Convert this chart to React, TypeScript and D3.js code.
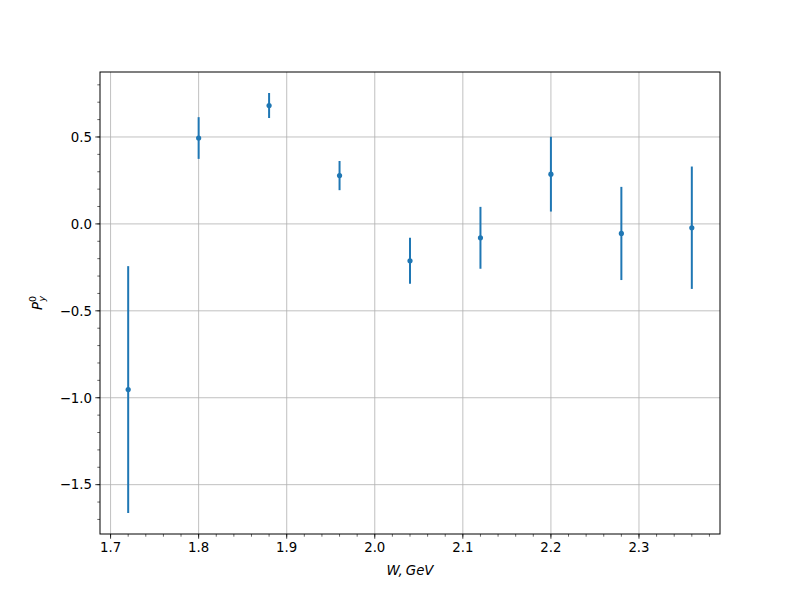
import React from "react";
import * as d3 from "d3";

const wValues = [1.72, 1.8, 1.88, 1.96, 2.04, 2.12, 2.2, 2.28, 2.36];
const pValues = [-0.953, 0.494, 0.681, 0.278, -0.212, -0.08, 0.286, -0.055, -0.022];
const pErrors = [0.71, 0.12, 0.072, 0.084, 0.132, 0.178, 0.215, 0.268, 0.352];
const xTicks = [1.7, 1.8, 1.9, 2.0, 2.1, 2.2, 2.3];
const yTicks = [-1.5, -1.0, -0.5, 0.0, 0.5];

const W = 800, H = 600;
const L = 100, R = 720, T = 72, B = 534;
const color = "#1f77b4";
const font = "DejaVu Sans, sans-serif";

export default function App() {
  const x = d3.scaleLinear().domain([1.688, 2.392]).range([L, R]);
  const lo = d3.min(pValues.map((v, i) => v - pErrors[i]))!;
  const hi = d3.max(pValues.map((v, i) => v + pErrors[i]))!;
  const m = (hi - lo) * 0.05;
  const y = d3.scaleLinear().domain([lo - m, hi + m]).range([B, T]);

  const xMinor = d3.range(170, 240, 2).map((v) => v / 100).filter((v) => x(v) >= L && x(v) <= R);
  const yMinor = d3.range(-17, 9, 1).map((v) => v / 10).filter((v) => y(v) >= T && y(v) <= B);
  const fmt = (v: number) => v.toFixed(1).replace("-", "\u2212");

  return (
    <svg width={W} height={H} style={{ position: "absolute", left: 0, top: 0 }}>
      <rect width={W} height={H} fill="white" />
      {xTicks.map((t) => (
        <line key={"gx" + t} x1={x(t)} x2={x(t)} y1={T} y2={B} stroke="#b0b0b0" strokeWidth={0.8} />
      ))}
      {yTicks.map((t) => (
        <line key={"gy" + t} x1={L} x2={R} y1={y(t)} y2={y(t)} stroke="#b0b0b0" strokeWidth={0.8} />
      ))}
      {wValues.map((w, i) => (
        <g key={"p" + i}>
          <line x1={x(w)} x2={x(w)} y1={y(pValues[i] - pErrors[i])} y2={y(pValues[i] + pErrors[i])} stroke={color} strokeWidth={2} />
          <circle cx={x(w)} cy={y(pValues[i])} r={2.6} fill={color} />
        </g>
      ))}
      <rect x={L} y={T} width={R - L} height={B - T} fill="none" stroke="black" strokeWidth={1} />
      {xTicks.map((t) => (
        <g key={"xt" + t}>
          <line x1={x(t)} x2={x(t)} y1={B} y2={B + 4.7} stroke="black" strokeWidth={0.8} />
          <text x={x(t)} y={B + 18} textAnchor="middle" fontFamily={font} fontSize={13.33}>{fmt(t)}</text>
        </g>
      ))}
      {xMinor.map((t) => (
        <line key={"xm" + t} x1={x(t)} x2={x(t)} y1={B} y2={B + 2.7} stroke="black" strokeWidth={0.6} />
      ))}
      {yTicks.map((t) => (
        <g key={"yt" + t}>
          <line x1={L - 4.7} x2={L} y1={y(t)} y2={y(t)} stroke="black" strokeWidth={0.8} />
          <text x={L - 8} y={y(t) + 4.8} textAnchor="end" fontFamily={font} fontSize={13.33}>{fmt(t)}</text>
        </g>
      ))}
      {yMinor.map((t) => (
        <line key={"ym" + t} x1={L - 2.7} x2={L} y1={y(t)} y2={y(t)} stroke="black" strokeWidth={0.6} />
      ))}
      <text x={(L + R) / 2} y={575} textAnchor="middle" fontFamily={font} fontSize={13.33} fontStyle="italic">
        <tspan>W,</tspan>
        <tspan dx={3}>GeV</tspan>
      </text>
      <g transform={`translate(42, ${(T + B) / 2}) rotate(-90)`}>
        <text x={0} y={0} textAnchor="middle" fontFamily={font} fontSize={13.33}>
          <tspan fontStyle="italic">P</tspan>
          <tspan fontSize={9.5} dy={-6}>0</tspan>
          <tspan fontSize={9.5} fontStyle="italic" dx={-5.5} dy={9}>y</tspan>
        </text>
      </g>
    </svg>
  );
}
